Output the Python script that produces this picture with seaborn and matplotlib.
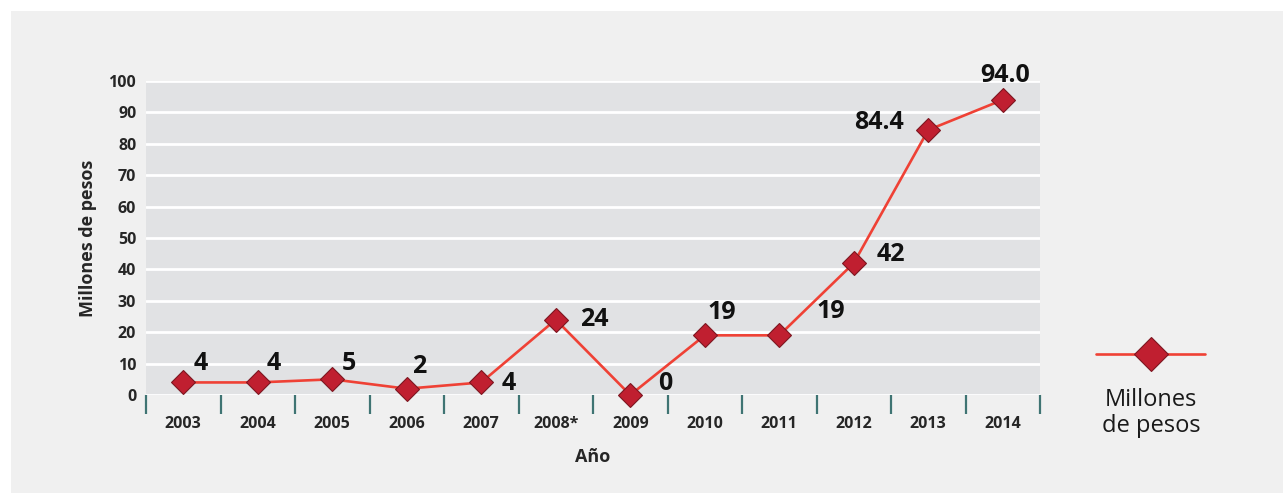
import matplotlib
matplotlib.use("Agg")
import matplotlib.pyplot as plt
import seaborn as sns
import pandas as pd
from matplotlib.lines import Line2D
from matplotlib.patches import Rectangle
from matplotlib.ticker import FixedLocator

# data
years = ["2003", "2004", "2005", "2006", "2007", "2008*", "2009",
         "2010", "2011", "2012", "2013", "2014"]
values = [4, 4, 5, 2, 4, 24, 0, 19, 19, 42, 84.4, 94.0]
value_labels = ["4", "4", "5", "2", "4", "24", "0", "19", "19", "42", "84.4", "94.0"]

# label offsets from each point, in pixels (right, up)
label_offsets = [(18, 19), (16, 19), (17, 16), (12, 22), (27, -1), (39, 0),
                 (35, 12), (17, 23), (52, 24), (37, 9), (-49, 7), (2, 24)]

line_color = "#ef4135"
marker_face = "#c01f30"
marker_edge = "#7d1620"
tick_color = "#3f7473"
bg_outer = "#f0f0f0"
bg_plot = "#e1e2e4"

sns.set_style("white")
plt.rcParams["font.family"] = ["Open Sans", "DejaVu Sans"]

df = pd.DataFrame({"year": years, "value": values})

fig = plt.figure(figsize=(12.83, 4.93), dpi=100)
fig.patch.set_facecolor("white")
fig.add_artist(Rectangle((11 / 1283, 0), 1 - 11 / 1283, 1 - 11 / 493,
                         transform=fig.transFigure, facecolor=bg_outer,
                         edgecolor="none", zorder=-10))

ax = fig.add_axes([146 / 1283, 1 - 395 / 493, 894 / 1283, 314 / 493])
ax.set_facecolor(bg_plot)

sns.lineplot(data=df, x="year", y="value", ax=ax, sort=False, color=line_color,
             linewidth=1.9, marker="D", markersize=12, markerfacecolor=marker_face,
             markeredgecolor=marker_edge, markeredgewidth=0.8, clip_on=False,
             zorder=5)

ax.set_xlim(-0.5, len(years) - 0.5)
ax.set_ylim(0, 100)
ax.set_yticks(range(0, 101, 10))
ax.yaxis.grid(True, color="white", linewidth=2)
ax.set_axisbelow(True)
for s in ax.spines.values():
    s.set_visible(False)

# ticks at category boundaries
ax.xaxis.set_minor_locator(FixedLocator([i - 0.5 for i in range(len(years) + 1)]))
ax.tick_params(axis="x", which="minor", bottom=True, length=14, width=1.6,
               color=tick_color, direction="out")
ax.tick_params(axis="x", which="major", bottom=True, length=0, pad=15)
ax.tick_params(axis="y", length=0, pad=7)
for lab in ax.get_xticklabels() + ax.get_yticklabels():
    lab.set_fontsize(11.5)
    lab.set_fontweight("bold")

ax.set_xlabel("Año", fontsize=13, fontweight="bold", labelpad=12)
ax.set_ylabel("Millones de pesos", fontsize=13, fontweight="bold", labelpad=8)

for i, (v, txt) in enumerate(zip(values, value_labels)):
    dx, dy = label_offsets[i]
    ax.annotate(txt, (i, v), xytext=(dx * 0.72, dy * 0.72), textcoords="offset points",
                ha="center", va="center", fontsize=18, fontweight="bold",
                color="#111111", zorder=6, annotation_clip=False)

# legend drawn by hand on the right
ly = 1 - 354 / 493
fig.add_artist(Line2D([1096 / 1283, 1205 / 1283], [ly, ly], color=line_color,
                      linewidth=1.9, transform=fig.transFigure))
fig.add_artist(Line2D([1151 / 1283], [ly], marker="D", markersize=17,
                      markerfacecolor=marker_face, markeredgecolor=marker_edge,
                      markeredgewidth=0.8, linestyle="none",
                      transform=fig.transFigure))
fig.text(1151 / 1283, 1 - 413 / 493, "Millones\nde pesos", ha="center", va="center",
         fontsize=17, color="#1a1a1a", linespacing=1.1)

fig.savefig("out.png", dpi=100, facecolor=fig.get_facecolor())
